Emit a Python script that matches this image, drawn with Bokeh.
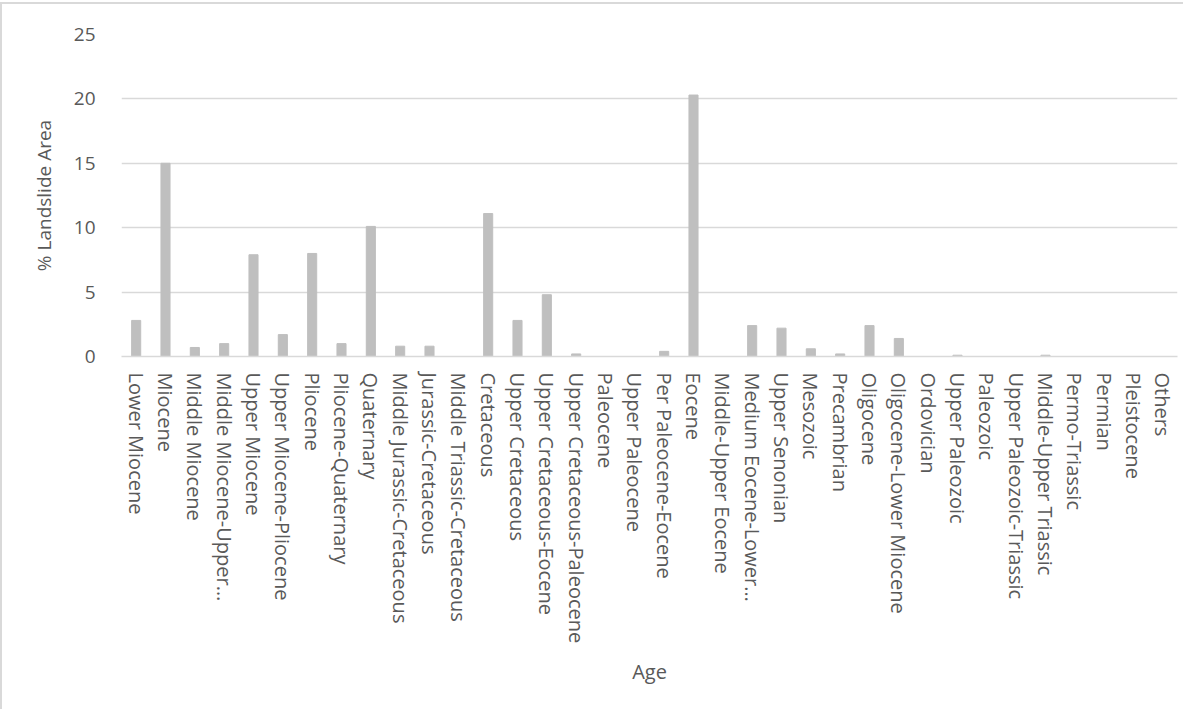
from bokeh.plotting import figure
from bokeh.models import Range1d, SingleIntervalTicker, ColumnDataSource
from bokeh.embed import file_html
from bokeh.resources import INLINE

ages = ["Lower Miocene", "Miocene", "Middle Miocene", "Middle Miocene-Upper\u2026",
        "Upper Miocene", "Upper Miocene-Pliocene", "Pliocene", "Pliocene-Quaternary",
        "Quaternary", "Middle Jurassic-Cretaceous", "Jurassic-Cretaceous",
        "Middle Triassic-Cretaceous", "Cretaceous", "Upper Cretaceous",
        "Upper Cretaceous-Eocene", "Upper Cretaceous-Paleocene", "Paleocene",
        "Upper Paleocene", "Per Paleocene-Eocene", "Eocene", "Middle-Upper Eocene",
        "Medium Eocene-Lower\u2026", "Upper Senonian", "Mesozoic", "Precambrian",
        "Oligocene", "Oligocene-Lower Miocene", "Ordovician", "Upper Paleozoic",
        "Paleozoic", "Upper Paleozoic-Triassic", "Middle-Upper Triassic",
        "Permo-Triassic", "Permian", "Pleistocene", "Others"]
landslide_pct = [2.8, 15.0, 0.7, 1.0, 7.9, 1.7, 8.0, 1.0, 10.1, 0.8, 0.8, 0.0,
                 11.1, 2.8, 4.8, 0.2, 0.0, 0.0, 0.4, 20.3, 0.0, 2.4, 2.2, 0.6,
                 0.2, 2.4, 1.4, 0.0, 0.1, 0.0, 0.0, 0.1, 0.0, 0.0, 0.0, 0.0]

FONT = "Open Sans"
TXT = "#595959"

src = ColumnDataSource(dict(age=ages, pct=landslide_pct))

p = figure(x_range=ages, y_range=Range1d(0, 25), width=1183, height=707,
           output_backend="svg", toolbar_location=None,
           min_border_left=119, min_border_right=8, min_border_top=30,
           min_border_bottom=355)
p.styles = {"border-top": "2px solid #d9d9d9", "border-left": "2px solid #d9d9d9",
            "margin-top": "2px"}
p.outline_line_color = None

p.vbar(x="age", top="pct", width=0.31, source=src, color="#bfbfbf")

p.yaxis.ticker = SingleIntervalTicker(interval=5)
p.yaxis.axis_line_color = None
p.yaxis.major_tick_line_color = None
p.yaxis.minor_tick_line_color = None
p.yaxis.major_tick_out = 0
p.yaxis.major_label_text_font = FONT
p.yaxis.major_label_text_font_size = "19px"
p.yaxis.major_label_text_color = TXT
p.yaxis.major_label_standoff = 22
p.yaxis.axis_label = "% Landslide Area"
p.yaxis.axis_label_text_font = FONT
p.yaxis.axis_label_text_font_size = "19px"
p.yaxis.axis_label_text_font_style = "normal"
p.yaxis.axis_label_text_color = TXT
p.yaxis.axis_label_standoff = 14

p.xaxis.axis_line_color = "#d9d9d9"
p.xaxis.axis_line_width = 1.5
p.xaxis.major_tick_line_color = None
p.xaxis.minor_tick_line_color = None
p.xaxis.major_tick_out = 0
p.xaxis.major_label_orientation = "vertical"
p.xaxis.major_label_text_font = FONT
p.xaxis.major_label_text_font_size = "20px"
p.xaxis.major_label_text_color = TXT
p.xaxis.major_label_standoff = 16
p.xaxis.axis_label = "Age"
p.xaxis.axis_label_text_font = FONT
p.xaxis.axis_label_text_font_size = "20px"
p.xaxis.axis_label_text_font_style = "normal"
p.xaxis.axis_label_text_color = TXT
p.xaxis.axis_label_standoff = 12

p.xgrid.grid_line_color = None
p.ygrid.grid_line_color = "#d9d9d9"
p.ygrid.grid_line_width = 1.5
p.ygrid.ticker = SingleIntervalTicker(interval=5)

open("out.html", "w").write(file_html(p, INLINE))
